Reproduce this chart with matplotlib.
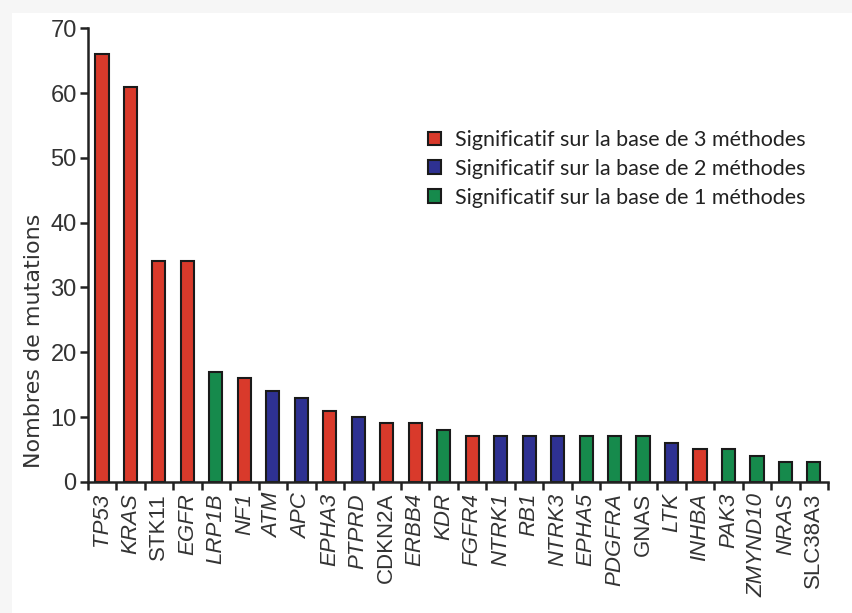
import matplotlib.pyplot as plt
from matplotlib.patches import Patch, Rectangle

genes = ['TP53', 'KRAS', 'STK11', 'EGFR', 'LRP1B', 'NF1', 'ATM', 'APC', 'EPHA3',
         'PTPRD', 'CDKN2A', 'ERBB4', 'KDR', 'FGFR4', 'NTRK1', 'RB1', 'NTRK3',
         'EPHA5', 'PDGFRA', 'GNAS', 'LTK', 'INHBA', 'PAK3', 'ZMYND10', 'NRAS', 'SLC38A3']
mutations = [66, 61, 34, 34, 17, 16, 14, 13, 11, 10, 9, 9, 8, 7, 7, 7, 7, 7, 7, 7,
             6, 5, 5, 4, 3, 3]
# nombre de méthodes significatives
methods = [3, 3, 3, 3, 1, 3, 2, 2, 3, 2, 3, 3, 1, 3, 2, 2, 2, 1, 1, 1, 2, 3, 1, 1, 1, 1]
upright = ['STK11', 'CDKN2A', 'GNAS', 'SLC38A3']

colors = {3: '#d93a2b', 2: '#2e3192', 1: '#168a4c'}
legend_labels = ['Significatif sur la base de 3 méthodes',
                 'Significatif sur la base de 2 méthodes',
                 'Significatif sur la base de 1 méthodes']

plt.rcParams['font.family'] = ['Liberation Sans', 'DejaVu Sans']

fig = plt.figure(figsize=(8.52, 6.13), dpi=100, facecolor='#f6f6f6')
fig.patches.append(Rectangle((0.014, 0), 0.986, 0.978, transform=fig.transFigure,
                             facecolor='white', edgecolor='none', zorder=-10))
ax = fig.add_axes([0.103, 0.214, 0.869, 0.74])
ax.set_facecolor('none')

x = list(range(len(genes)))
ax.bar(x, mutations, width=0.46, color=[colors[m] for m in methods],
       edgecolor='#1a1a1a', linewidth=1.5)

ax.set_xlim(-0.5, len(genes) - 0.5)
ax.set_ylim(0, 70)
ax.set_yticks(range(0, 71, 10))
ax.tick_params(axis='y', labelsize=17, length=6, width=1.8, colors='#222222',
               labelcolor='#333333', pad=2)
ax.set_xticks([i - 0.5 for i in range(len(genes) + 1)])
ax.set_xticklabels([])
ax.tick_params(axis='x', length=6, width=1.8, direction='out', colors='#222222')
ax.set_xticks(x, minor=True)
ax.set_xticklabels(genes, minor=True, rotation=90, fontsize=16, color='#333333')
ax.tick_params(axis='x', which='minor', length=0, pad=8)
for lab in ax.get_xticklabels(minor=True):
    if lab.get_text() not in upright:
        lab.set_style('italic')

for s in ['top', 'right']:
    ax.spines[s].set_visible(False)
for s in ['left', 'bottom']:
    ax.spines[s].set_linewidth(1.8)
    ax.spines[s].set_color('#222222')

ax.set_ylabel('Nombres de mutations', fontsize=16, family='DejaVu Sans',
              color='#333333')
ax.yaxis.set_label_coords(-0.059, 0.31)

handles = [Patch(facecolor=colors[m], edgecolor='#1a1a1a', linewidth=1.5) for m in [3, 2, 1]]
ax.legend(handles, legend_labels, loc='upper left', bbox_to_anchor=(0.502, 0.788),
          bbox_transform=fig.transFigure, borderpad=0, borderaxespad=0,
          frameon=False, prop={'family': 'Lato', 'size': 15.5}, labelcolor='#222222',
          handlelength=0.6, handleheight=0.6, handletextpad=0.65, labelspacing=0.41)

plt.savefig('out.png', facecolor=fig.get_facecolor())
